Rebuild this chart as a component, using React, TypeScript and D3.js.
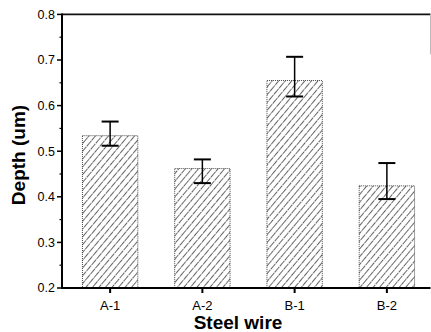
import React from "react";
import * as d3 from "d3";

const categories = ["A-1", "A-2", "B-1", "B-2"];
const depthValues = [0.534, 0.462, 0.655, 0.424];
const errUpper = [0.565, 0.482, 0.707, 0.474];
const errLower = [0.512, 0.43, 0.62, 0.395];
const yTicks = [0.2, 0.3, 0.4, 0.5, 0.6, 0.7, 0.8];
const yMinorTicks = [0.25, 0.35, 0.45, 0.55, 0.65, 0.75];

const W = 431;
const H = 332;
const left = 62;
const right = 430.5;
const top = 14.4;
const bottom = 288;

export default function App() {
  const x = d3.scaleBand<string>().domain(categories).range([64, 433]).paddingInner(0.4).paddingOuter(0.2);
  const y = d3.scaleLinear().domain([0.2, 0.8]).range([bottom, top]);
  const bw = x.bandwidth();
  const font = "'Liberation Sans', Arial, sans-serif";
  return (
    <svg width={W} height={H} style={{ position: "absolute", left: 0, top: 0, background: "#fff" }}>
      <defs>
        <pattern id="hatch" patternUnits="userSpaceOnUse" width={5} height={5} patternTransform="rotate(40)">
          <line x1={0} y1={0} x2={0} y2={5} stroke="#000" strokeWidth={1.2} />
        </pattern>
        <pattern id="hatch2" patternUnits="userSpaceOnUse" width={5} height={8} patternTransform="rotate(40)">
          <line x1={0} y1={0} x2={0} y2={8} stroke="#fff" strokeWidth={1.8} strokeDasharray="1 7" />
        </pattern>
      </defs>
      <rect x={0} y={0} width={W} height={H} fill="#fff" />
      {categories.map((c, i) => {
        const x0 = x(c)!;
        const yt = y(depthValues[i]);
        return (
          <g key={c}>
            <rect x={x0} y={yt} width={bw} height={bottom - yt} fill="url(#hatch)" />
            <rect x={x0} y={yt} width={bw} height={bottom - yt} fill="url(#hatch2)" />
            <rect x={x0} y={yt} width={bw} height={bottom - yt} fill="none" stroke="#333" strokeWidth={0.9} strokeDasharray="1 1" />
          </g>
        );
      })}
      {categories.map((c, i) => {
        const cx = x(c)! + bw / 2;
        const yu = y(errUpper[i]);
        const yl = y(errLower[i]);
        return (
          <g key={"e" + c} stroke="#000">
            <line x1={cx} x2={cx} y1={yu} y2={yl} strokeWidth={1.5} />
            <line x1={cx - 8.5} x2={cx + 8.5} y1={yu} y2={yu} strokeWidth={2} />
            <line x1={cx - 8.5} x2={cx + 8.5} y1={yl} y2={yl} strokeWidth={2} />
          </g>
        );
      })}
      <line x1={left} x2={right} y1={top} y2={top} stroke="#111" strokeWidth={1.6} />
      <line x1={right} x2={right} y1={top} y2={top + 40} stroke="#bbb" strokeWidth={1} />
      <line x1={left} x2={right} y1={bottom} y2={bottom} stroke="#000" strokeWidth={2} />
      <line x1={left} x2={left} y1={top - 1} y2={bottom + 1} stroke="#000" strokeWidth={2} />
      {yTicks.map((t) => (
        <g key={"yt" + t}>
          <line x1={left - 5} x2={left} y1={y(t)} y2={y(t)} stroke="#000" strokeWidth={1.5} />
          <text x={left - 7} y={y(t)} dy="0.35em" textAnchor="end" fontFamily={font} fontSize={12.5} fill="#000">
            {t.toFixed(1)}
          </text>
        </g>
      ))}
      {yMinorTicks.map((t) => (
        <line key={"ym" + t} x1={left - 2.5} x2={left} y1={y(t)} y2={y(t)} stroke="#000" strokeWidth={1.2} />
      ))}
      {categories.map((c) => {
        const cx = x(c)! + bw / 2;
        return (
          <g key={"xt" + c}>
            <line x1={cx} x2={cx} y1={bottom} y2={bottom + 5} stroke="#000" strokeWidth={2} />
            <text x={cx} y={bottom + 22} textAnchor="middle" fontFamily={font} fontSize={13} fill="#000">
              {c}
            </text>
          </g>
        );
      })}
      <text x={238} y={329} textAnchor="middle" fontFamily={font} fontSize={19} fontWeight="bold" fill="#000">
        Steel wire
      </text>
      <text
        transform={`translate(25,${155}) rotate(-90)`}
        textAnchor="middle"
        fontFamily={font}
        fontSize={19}
        fontWeight="bold"
        fill="#000"
      >
        Depth (um)
      </text>
    </svg>
  );
}
